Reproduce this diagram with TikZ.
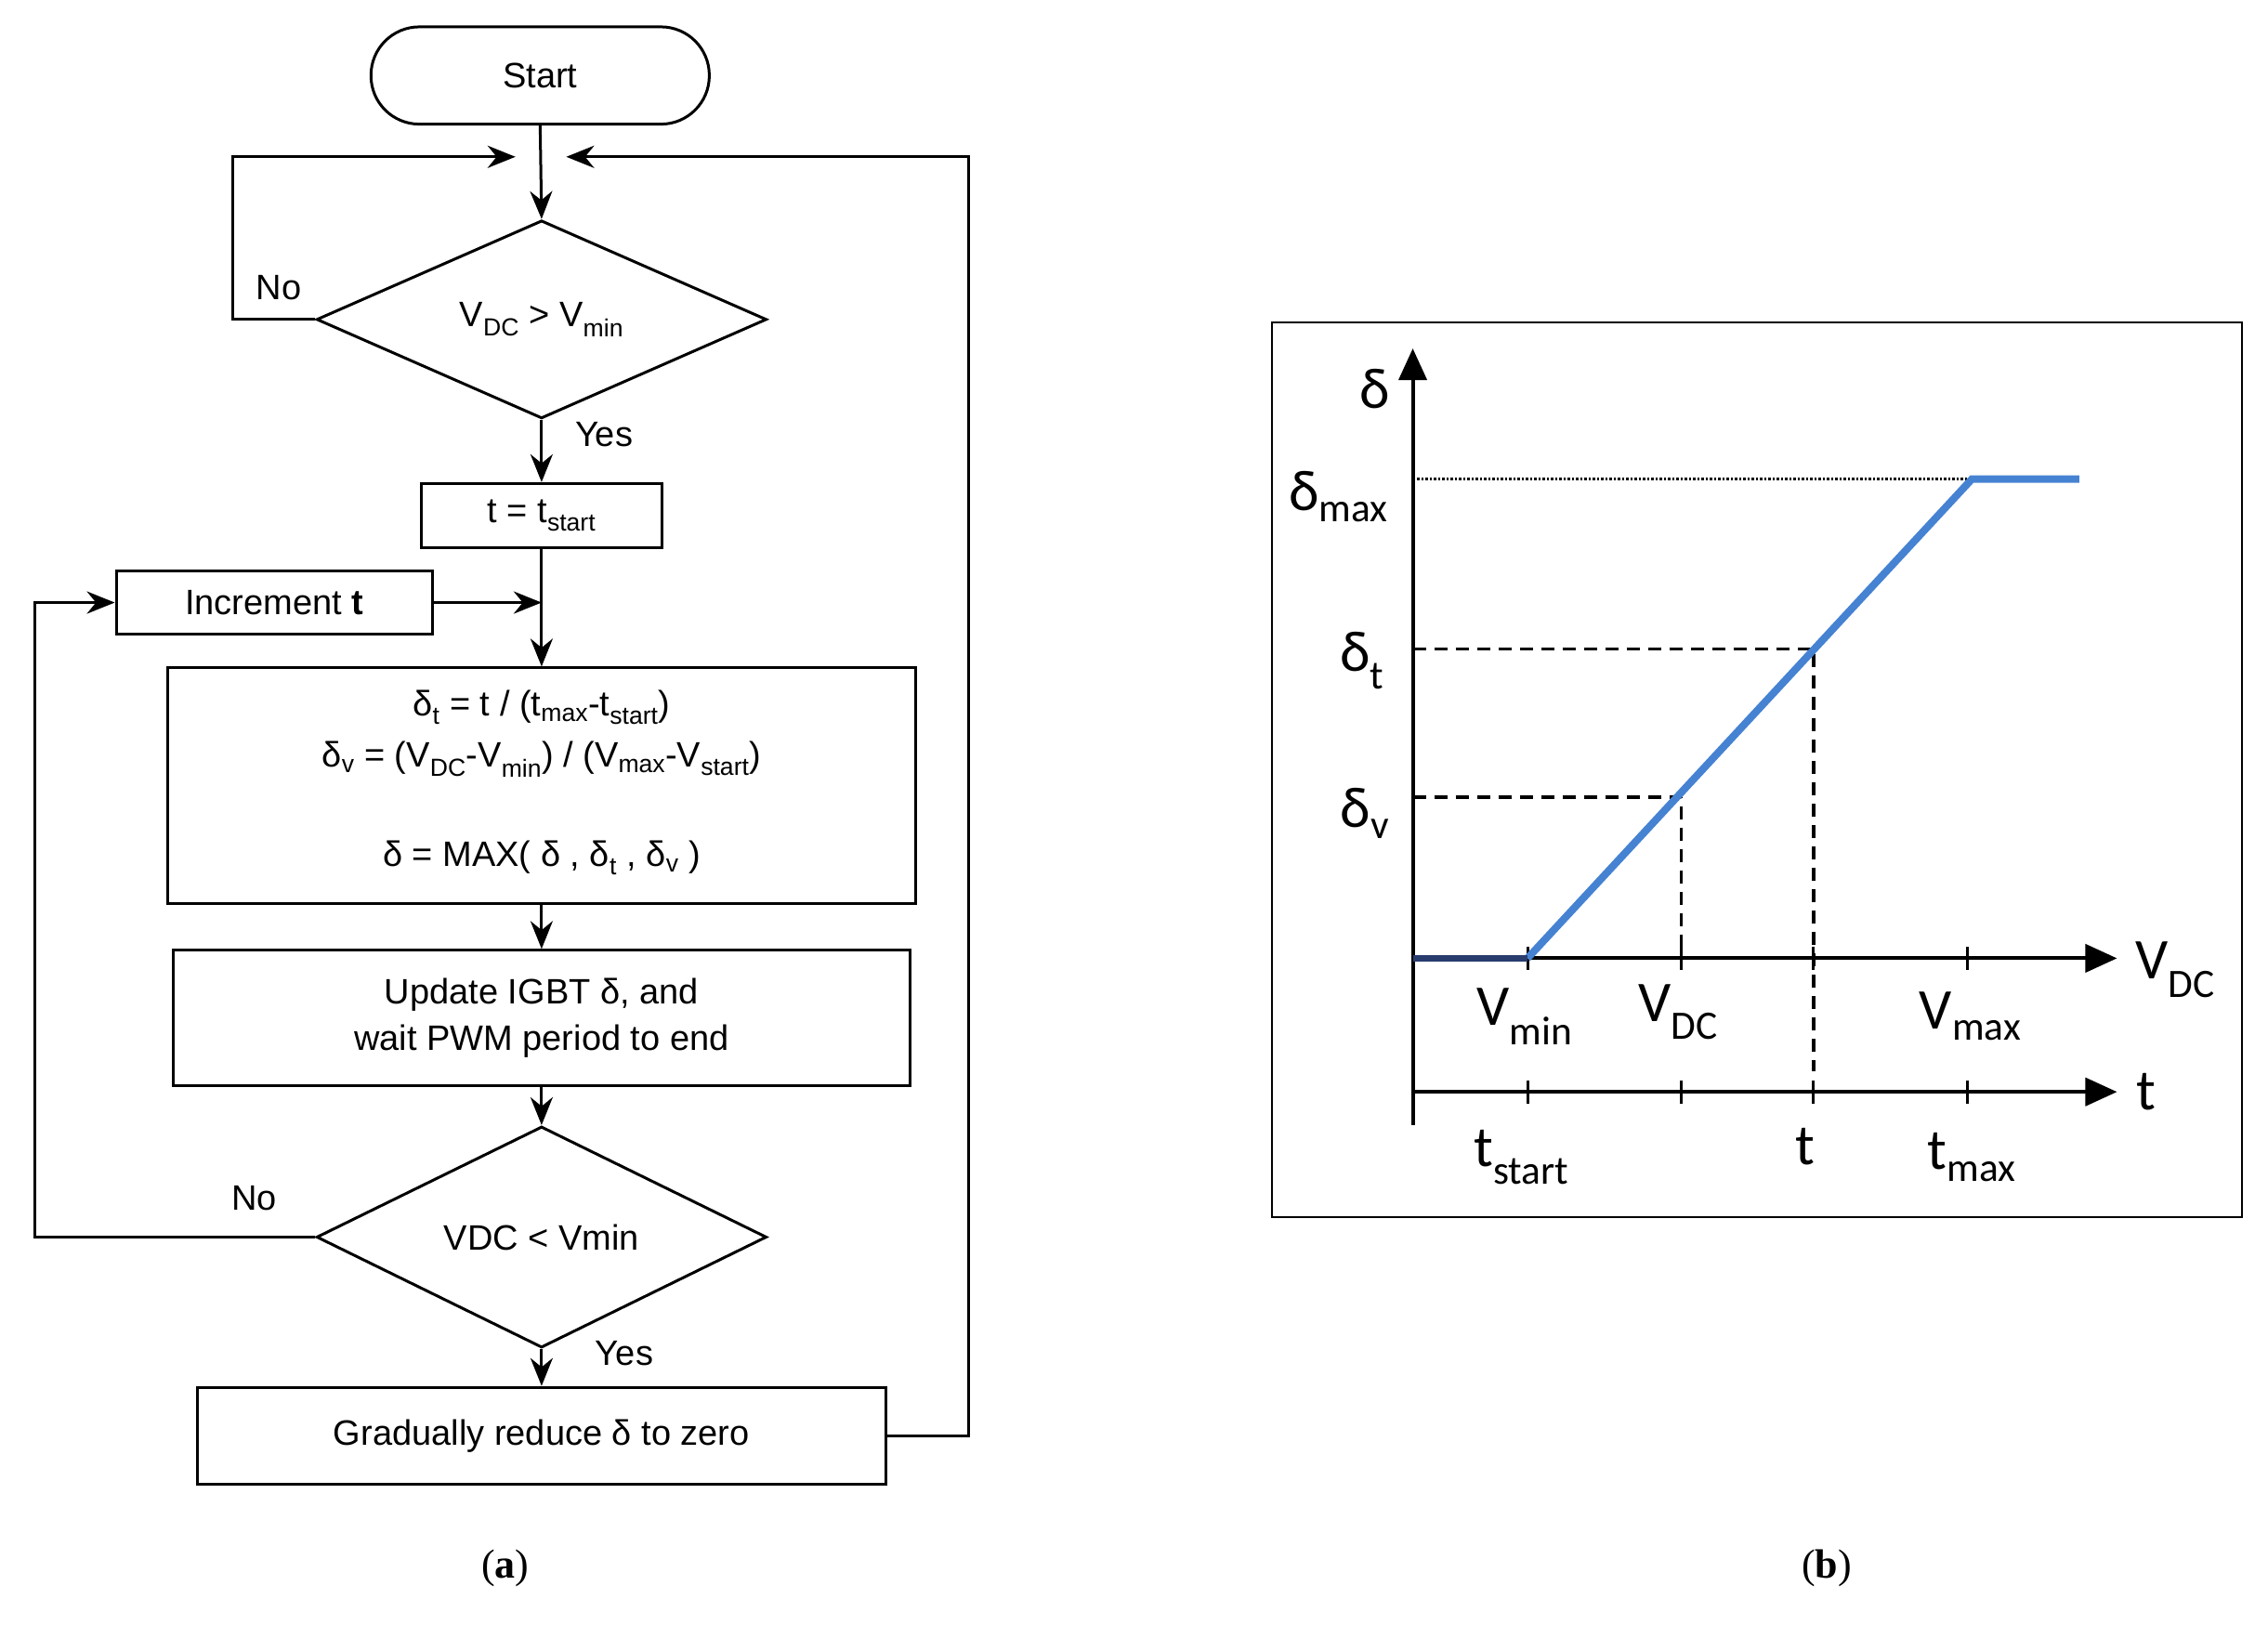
\documentclass[tikz,border=0pt]{standalone}
\usepackage{fontspec}
\setmainfont{Liberation Sans}
\newfontfamily\gfont{Carlito}
\newfontfamily\cfont{Liberation Serif}
\usetikzlibrary{shapes.geometric,arrows.meta}
\newcommand{\sub}[1]{\textsubscript{#1}}
\begin{document}
\begin{tikzpicture}[x=1.5627pt,y=-1.5627pt,
  fc/.style={draw,line width=3pt,inner sep=0pt,font=\fontsize{38}{50}\selectfont,align=center},
  ln/.style={line width=3pt},
  ar/.style={ln,-{Stealth[length=30pt,width=24pt]}},
  gl/.style={font=\gfont\fontsize{62}{62}\selectfont,inner sep=0pt},
  ax/.style={line width=4pt,-{Triangle[length=34pt,width=30pt]}}]
\useasboundingbox (0,0) rectangle (1562,1119);
% flowchart
\node[fc,rectangle,rounded corners=52pt,minimum width=233*1.5627pt,minimum height=67*1.5627pt] (st) at (372,52) {Start};
\node[fc,diamond,minimum width=310*1.5627pt,minimum height=134*1.5627pt] (d1) at (373,220) {V\sub{DC} > V\sub{min}};
\node[fc,minimum width=166*1.5627pt,minimum height=44*1.5627pt] (tb) at (373,355) {t = t\sub{start}};
\node[fc,minimum width=218*1.5627pt,minimum height=44*1.5627pt] (inc) at (189,415) {Increment \textbf{t}};
\node[fc,minimum width=515*1.5627pt,minimum height=162*1.5627pt] (calc) at (373,541) {};
\node at (373,487) [font=\fontsize{38}{50}\selectfont] {δ\sub{t} = t / (t\sub{max}-t\sub{start})};
\node at (373,523) [font=\fontsize{38}{50}\selectfont] {δ\sub{v} = (V\sub{DC}-V\sub{min}) / (V\sub{max}-V\sub{start})};
\node at (373,591) [font=\fontsize{38}{50}\selectfont] {δ = MAX( δ , δ\sub{t} , δ\sub{v} )};
\node[fc,minimum width=507*1.5627pt,minimum height=93*1.5627pt] (up) at (373,701) {Update IGBT δ, and\\wait PWM period to end};
\node[fc,diamond,minimum width=310*1.5627pt,minimum height=133*1.5627pt] (d2) at (373,852) {VDC < Vmin};
\node[fc,minimum width=474*1.5627pt,minimum height=67*1.5627pt] (g) at (373,989) {Gradually reduce δ to zero};
\coordinate (m) at (373,108);
\coordinate (ml) at (355,108);
\coordinate (mr) at (390,108);
\coordinate (mi) at (373,415);
\draw[ar] (st.south) -- (d1.north);
\draw[ar] (d1.west) -- (160,220) -- (160,108) -- (ml);
\draw[ar] (g.east) -- (667,989) -- (667,108) -- (mr);
\draw[ar] (d1.south) -- (tb.north);
\draw[ar] (tb.south) -- (calc.north);
\draw[ar] (inc.east) -- (mi);
\draw[ar] (d2.west) -- (24,852) -- (24,415) -- (inc.west);
\draw[ar] (calc.south) -- (up.north);
\draw[ar] (up.south) -- (d2.north);
\draw[ar] (d2.south) -- (g.north);
\node[font=\fontsize{38}{46}\selectfont] (no1) at (192,198) {No};
\node[font=\fontsize{38}{46}\selectfont] (y1) at (416,299) {Yes};
\node[font=\fontsize{38}{46}\selectfont] (no2) at (175,825) {No};
\node[font=\fontsize{38}{46}\selectfont] (y2) at (430,932) {Yes};
\node[font=\cfont\fontsize{44}{50}\selectfont] (la) at (348,1080) {(\textbf{a})};
\node[font=\cfont\fontsize{44}{50}\selectfont] (lb) at (1258,1080) {(\textbf{b})};
% graph
\draw[line width=2pt] (876,222) rectangle (1544,838);
\coordinate (o) at (973,660);
\coordinate (yt) at (973,240);
\coordinate (yb) at (973,775);
\coordinate (xe) at (1458,660);
\coordinate (ts) at (973,752);
\coordinate (te) at (1458,752);
\draw[ax] (yb) -- (yt);
\draw[ax] (o) -- (xe);
\draw[ax] (ts) -- (te);
\foreach \x in {1052,1158,1249,1355}{
  \draw[line width=3pt] (\x,652) -- (\x,668);
  \draw[line width=3pt] (\x,744) -- (\x,760);}
\coordinate (p1) at (1052,660);
\coordinate (p2) at (1358,330);
\coordinate (p3) at (1432,330);
\draw[dotted,line width=2.5pt] (973,330) -- (p2);
\draw[dashed,line width=3.5pt,dash pattern=on 14pt off 9pt] (973,447) -- (1249,447) -- (1249,738);
\draw[dashed,line width=3.5pt,dash pattern=on 14pt off 9pt] (973,549) -- (1158,549) -- (1158,660);
\draw[line width=8pt,color={rgb,255:red,70;green,130;blue,210}] (p1) -- (p2) -- (p3);
\draw[line width=7pt,color={rgb,255:red,40;green,60;blue,110}] (o) -- (p1);
\node[gl] (ld) at (947,268) {δ};
\node[gl] (ldm) at (922,342) {δ\sub{max}};
\node[gl] (ldt) at (938,455) {δ\sub{t}};
\node[gl] (ldv) at (940,560) {δ\sub{v}};
\node[gl] (lvdc) at (1498,668) {V\sub{DC}};
\node[gl] (lt) at (1478,752) {t};
\node[gl] (lvmin) at (1050,700) {V\sub{min}};
\node[gl] (lvdc2) at (1156,697) {V\sub{DC}};
\node[gl] (lvmax) at (1357,700) {V\sub{max}};
\node[gl] (lts) at (1048,797) {t\sub{start}};
\node[gl] (lt2) at (1243,790) {t};
\node[gl] (ltm) at (1358,797) {t\sub{max}};
\end{tikzpicture}
\end{document}
